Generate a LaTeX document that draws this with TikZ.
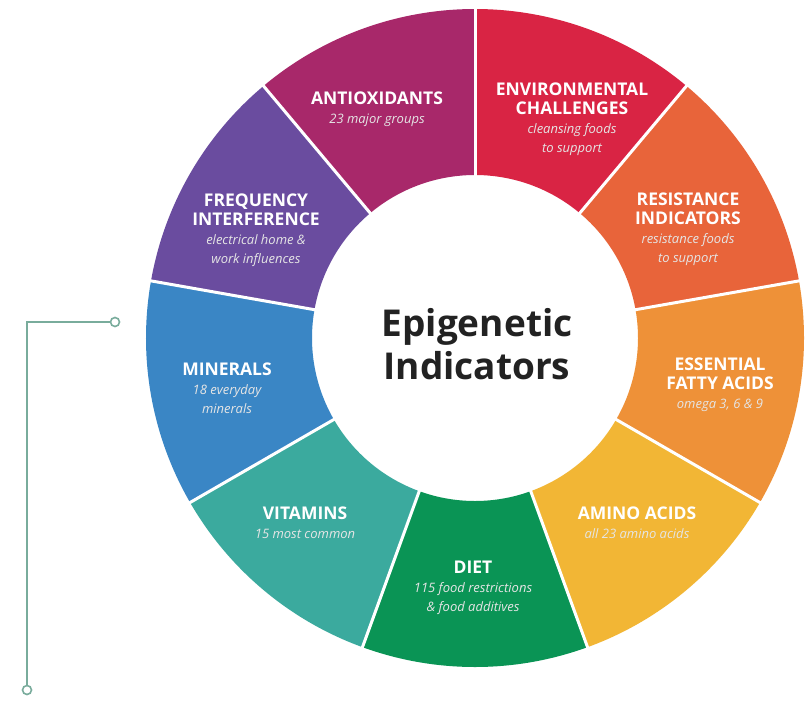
\documentclass[tikz,border=0pt]{standalone}
\usepackage{fontspec}
\setmainfont{Open Sans}
\definecolor{cAntiox}{HTML}{A8286A}
\definecolor{cEnviron}{HTML}{D92444}
\definecolor{cResist}{HTML}{E8643A}
\definecolor{cFatty}{HTML}{EE9138}
\definecolor{cAmino}{HTML}{F2B635}
\definecolor{cDiet}{HTML}{0A9455}
\definecolor{cVitamin}{HTML}{3BAA9E}
\definecolor{cMineral}{HTML}{3A86C5}
\definecolor{cFreq}{HTML}{6A4C9F}
\definecolor{cLink}{HTML}{79AC9C}
\definecolor{cTitle}{HTML}{222222}
\newcommand{\subtxt}[1]{{\fontsize{13}{18}\selectfont\mdseries\itshape\color{white!90!black}#1}}
\begin{document}
\begin{tikzpicture}[x=1pt,y=-1pt,
  seglabel/.style={text=white, align=center, anchor=base, inner sep=0pt,
    font=\fontsize{17.5}{19}\selectfont\bfseries},
  centertext/.style={text=cTitle, anchor=base, inner sep=0pt,
    font=\fontsize{37}{43}\selectfont\bfseries},
  dotend/.style={circle, draw=cLink, fill=white, line width=1.6pt,
    minimum size=9pt, inner sep=0pt},
  linkline/.style={draw=cLink, line width=1.8pt},
  separator/.style={white, line width=3pt}]
\useasboundingbox (0,0) rectangle (812,702);
\fill[white] (0,0) rectangle (812,702);

% ring of nine segments, 40 degrees each
\def\Ro{329}
\def\Ri{163}
\begin{scope}[shift={(475,338)}]
  \foreach \s/\c in {90/cAntiox, 130/cFreq, 170/cMineral, 210/cVitamin,
                     250/cDiet, 290/cAmino, 330/cFatty, 10/cResist, 50/cEnviron}{
    \fill[\c] ({-\s}:\Ri) -- ({-\s}:\Ro)
      arc[start angle={-\s}, end angle={-\s-40}, radius=\Ro]
      -- ({-\s-40}:\Ri)
      arc[start angle={-\s-40}, end angle={-\s}, radius=\Ri] -- cycle;
  }
  \foreach \s in {10,50,90,130,170,210,250,290,330}{
    \draw[separator] ({-\s}:{\Ri-3}) -- ({-\s}:{\Ro+3});
  }
\end{scope}

% centre title
\node[centertext] (title1) at (477,336) {Epigenetic};
\node[centertext] (title2) at (477,379) {Indicators};

% segment labels (positioned by the baseline of their last line)
\node[seglabel] (antiox) at (377,123) {ANTIOXIDANTS\\ \subtxt{23 major groups}};
\node[seglabel] (environ) at (572,152) {ENVIRONMENTAL\\CHALLENGES\\ \subtxt{cleansing foods}\\ \subtxt{to support}};
\node[seglabel] (resist) at (688,262) {RESISTANCE\\INDICATORS\\ \subtxt{resistance foods}\\ \subtxt{to support}};
\node[seglabel] (fatty) at (720,408) {ESSENTIAL\\FATTY ACIDS\\ \subtxt{omega 3, 6 \& 9}};
\node[seglabel] (amino) at (637,538) {AMINO ACIDS\\ \subtxt{all 23 amino acids}};
\node[seglabel] (diet) at (473,611) {DIET\\ \subtxt{115 food restrictions}\\ \subtxt{\& food additives}};
\node[seglabel] (vitamin) at (305,538) {VITAMINS\\ \subtxt{15 most common}};
\node[seglabel] (mineral) at (227,413) {MINERALS\\ \subtxt{18 everyday}\\ \subtxt{minerals}};
\node[seglabel] (freq) at (256,263) {FREQUENCY\\INTERFERENCE\\ \subtxt{electrical home \&}\\ \subtxt{work influences}};

% connector on the left
\node[dotend] (linkA) at (115,322) {};
\node[dotend] (linkB) at (27,690) {};
\draw[linkline] (linkA) -| (linkB);
\end{tikzpicture}
\end{document}
